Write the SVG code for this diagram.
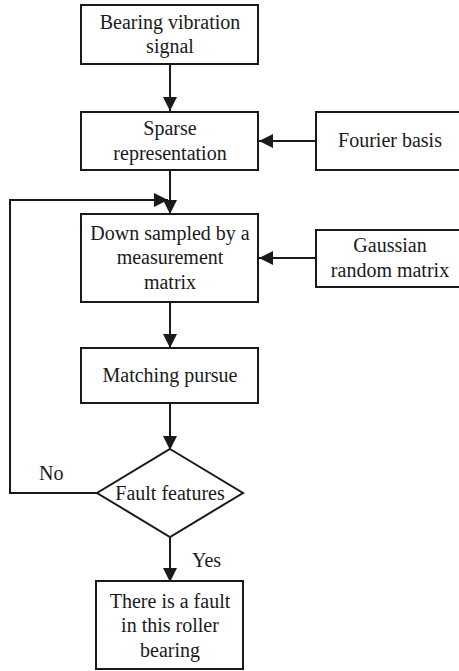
<svg xmlns="http://www.w3.org/2000/svg" width="459" height="671" viewBox="0 0 459 671" font-family="'Liberation Serif', 'Times New Roman', 'DejaVu Serif', serif">
<defs>
<style>
.box{fill:#fff;stroke:#1a1a1a;stroke-width:2}
.ln{fill:none;stroke:#1a1a1a;stroke-width:2}
text{font-family:'Liberation Serif','Times New Roman','DejaVu Serif',serif;font-size:20px;fill:#1a1a1a;text-anchor:middle}
.l{text-anchor:start}
</style>
<marker id="ah" viewBox="0 0 14 14" refX="14" refY="7" markerWidth="14" markerHeight="14" markerUnits="userSpaceOnUse" orient="auto">
<path d="M0,0 L14,7 L0,14 Z" fill="#1a1a1a"/>
</marker>
</defs>
<rect width="459" height="671" fill="#fff"/>
<g id="connectors">
<line class="ln" x1="170" y1="64" x2="170" y2="111" marker-end="url(#ah)"/>
<line class="ln" x1="316" y1="141" x2="259" y2="141" marker-end="url(#ah)"/>
<line class="ln" x1="170" y1="170" x2="170" y2="214" marker-end="url(#ah)"/>
<polyline class="ln" points="97,493 10,493 10,200 168,200" marker-end="url(#ah)"/>
<line class="ln" x1="316" y1="258" x2="259" y2="258" marker-end="url(#ah)"/>
<line class="ln" x1="170" y1="302" x2="170" y2="348" marker-end="url(#ah)"/>
<line class="ln" x1="170" y1="403" x2="170" y2="450" marker-end="url(#ah)"/>
<line class="ln" x1="170" y1="537" x2="170" y2="582" marker-end="url(#ah)"/>
<text class="l" x="39" y="480">No</text>
<text class="l" x="192" y="567">Yes</text>
</g>
<g id="n1">
<rect class="box" x="81" y="5" width="177" height="59"/>
<text x="170" y="29">Bearing vibration</text>
<text x="170" y="53">signal</text>
</g>
<g id="n2">
<rect class="box" x="81" y="112" width="177" height="58"/>
<text x="170" y="135">Sparse</text>
<text x="170" y="160">representation</text>
</g>
<g id="n3">
<rect class="box" x="316" y="112" width="148" height="58"/>
<text x="390" y="147">Fourier basis</text>
</g>
<g id="n4">
<rect class="box" x="81" y="214" width="177" height="88"/>
<text x="170" y="240">Down sampled by a</text>
<text x="170" y="264">measurement</text>
<text x="170" y="289">matrix</text>
</g>
<g id="n5">
<rect class="box" x="316" y="230" width="148" height="57"/>
<text x="390" y="252">Gaussian</text>
<text x="390" y="277">random matrix</text>
</g>
<g id="n6">
<rect class="box" x="81" y="348" width="177" height="55"/>
<text x="170" y="382">Matching pursue</text>
</g>
<g id="n7">
<polygon class="box" points="170,449 243,493 170,537 97,493"/>
<text x="170" y="500">Fault features</text>
</g>
<g id="n8">
<rect class="box" x="96" y="581" width="147" height="88"/>
<text x="170" y="608">There is a fault</text>
<text x="170" y="632">in this roller</text>
<text x="170" y="657">bearing</text>
</g>
</svg>
